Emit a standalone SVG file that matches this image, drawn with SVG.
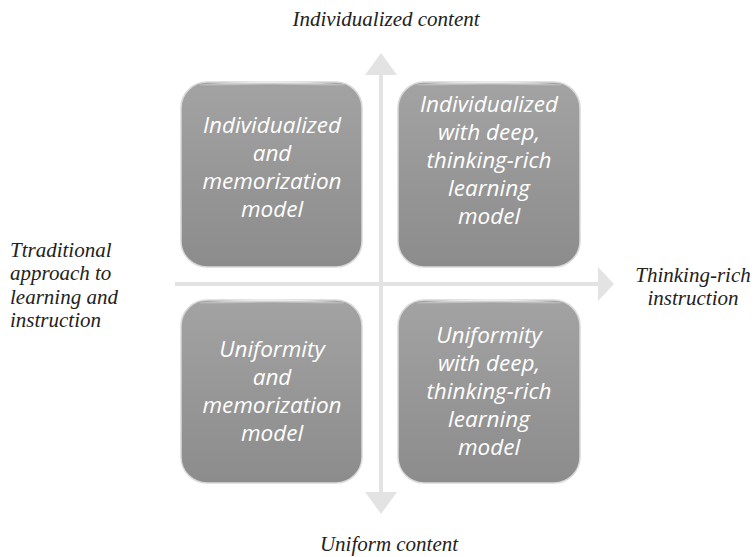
<svg xmlns="http://www.w3.org/2000/svg" width="755" height="557" viewBox="0 0 755 557">
<defs>
<linearGradient id="g" x1="0" y1="0" x2="0" y2="1">
<stop offset="0" stop-color="#a3a3a3"/>
<stop offset="0.5" stop-color="#979797"/>
<stop offset="1" stop-color="#8c8c8c"/>
</linearGradient>
<linearGradient id="hl" x1="0" y1="0" x2="0" y2="1">
<stop offset="0" stop-color="#ffffff" stop-opacity="0.6"/>
<stop offset="1" stop-color="#ffffff" stop-opacity="0"/>
</linearGradient>
</defs>
<style>
.box{fill:url(#g);stroke:#d9d9d9;stroke-width:1.5}
.hi{fill:none;stroke:url(#hl);stroke-width:3}
.bt{font-family:'Open Sans','Noto Sans',sans-serif;font-style:italic;font-size:22.5px;fill:#ffffff;text-anchor:middle}
.ax{font-family:'Liberation Serif','DejaVu Serif',serif;font-style:italic;font-size:21px;fill:#222222}
.axis{stroke:#e3e3e3;stroke-width:4;fill:none}
.head{fill:#e3e3e3}
</style>
<rect width="755" height="557" fill="#ffffff"/>
<g id="connectors">
<line class="axis" x1="381" y1="74" x2="381" y2="493"/>
<polygon class="head" points="381,53 365,75 397,75"/>
<polygon class="head" points="381,514 365,492 397,492"/>
<line class="axis" x1="175" y1="284" x2="599" y2="284"/>
<polygon class="head" points="614,284 598,267 598,301"/>
</g>
<g id="n1">
<rect class="box" x="181" y="82" width="181" height="185" rx="26"/>
<path class="hi" d="M200,86 Q272,80 344,86"/>
<text class="bt" x="272" y="133">Individualized</text>
<text class="bt" x="272" y="161">and</text>
<text class="bt" x="272" y="189">memorization</text>
<text class="bt" x="272" y="217">model</text>
</g>
<g id="n2">
<rect class="box" x="398" y="82" width="182" height="185" rx="26"/>
<path class="hi" d="M417,86 Q489,80 561,86"/>
<text class="bt" x="489" y="112">Individualized</text>
<text class="bt" x="489" y="140">with deep,</text>
<text class="bt" x="489" y="168">thinking-rich</text>
<text class="bt" x="489" y="196">learning</text>
<text class="bt" x="489" y="224">model</text>
</g>
<g id="n3">
<rect class="box" x="181" y="300" width="181" height="183" rx="26"/>
<path class="hi" d="M200,304 Q272,298 344,304"/>
<text class="bt" x="272" y="357">Uniformity</text>
<text class="bt" x="272" y="385">and</text>
<text class="bt" x="272" y="413">memorization</text>
<text class="bt" x="272" y="441">model</text>
</g>
<g id="n4">
<rect class="box" x="398" y="300" width="182" height="183" rx="26"/>
<path class="hi" d="M417,304 Q489,298 561,304"/>
<text class="bt" x="489" y="343">Uniformity</text>
<text class="bt" x="489" y="371">with deep,</text>
<text class="bt" x="489" y="399">thinking-rich</text>
<text class="bt" x="489" y="427">learning</text>
<text class="bt" x="489" y="455">model</text>
</g>
<g id="labels">
<text class="ax" x="386" y="26" text-anchor="middle">Individualized content</text>
<text class="ax" x="389" y="551" text-anchor="middle">Uniform content</text>
<text class="ax" x="10" y="257">Ttraditional</text>
<text class="ax" x="10" y="280">approach to</text>
<text class="ax" x="10" y="304">learning and</text>
<text class="ax" x="10" y="327">instruction</text>
<text class="ax" x="693" y="282" text-anchor="middle">Thinking-rich</text>
<text class="ax" x="693" y="305" text-anchor="middle">instruction</text>
</g>
</svg>
